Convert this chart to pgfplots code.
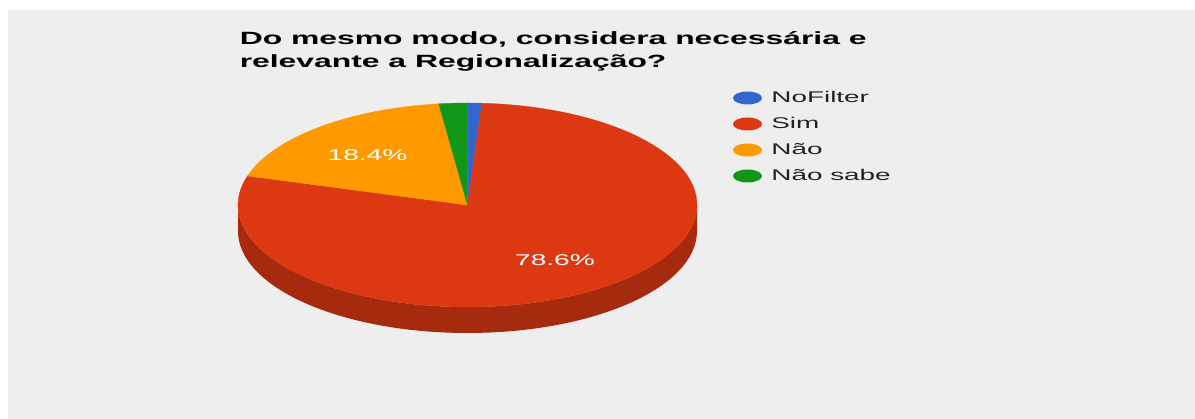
\documentclass[border=0pt]{standalone}
\usepackage{pgfplots}
\pgfplotsset{compat=1.18}
\usepackage{fontspec}
\setmainfont{Liberation Sans}
\definecolor{bg}{HTML}{EEEEEE}
\definecolor{cblue}{HTML}{3366CC}
\definecolor{cred}{HTML}{DC3912}
\definecolor{corange}{HTML}{FF9900}
\definecolor{cgreen}{HTML}{109618}
\definecolor{credside}{HTML}{A52A0E}
\definecolor{ltext}{HTML}{222222}
% shares (percent)
\def\pNoFilter{1.0}
\def\pSim{78.6}
\def\pNao{18.4}
\def\pNaoSabe{2.0}
% geometry
\def\cx{467.5}\def\cy{214}\def\rx{229.5}\def\ry{102}\def\dep{26}
\begin{document}
\begin{tikzpicture}
\begin{axis}[x=1pt,y=1pt,xmin=0,xmax=1195,ymin=0,ymax=419,hide axis,scale only axis,clip=false,disabledatascaling]
\fill[white] (axis cs:0,0) rectangle (axis cs:1195,419);
\fill[bg] (axis cs:8,0) rectangle (axis cs:1195,409);
% side wall (front, entirely within Sim)
\fill[credside] (axis cs:238,214) -- ++(0,-\dep pt) arc[start angle=180,end angle=360,x radius=\rx pt,y radius=\ry pt] -- ++(0,\dep pt) arc[start angle=360,end angle=180,x radius=\rx pt,y radius=\ry pt] -- cycle;
% top faces
\fill[cblue,draw=cblue,line width=0.3pt] (axis cs:\cx,\cy) -- ++(90:\rx pt and \ry pt) arc[start angle=90,delta angle={-3.6*\pNoFilter},x radius=\rx pt,y radius=\ry pt] -- cycle;
\fill[cred,draw=cred,line width=0.3pt] (axis cs:\cx,\cy) -- ++({90-3.6*\pNoFilter}:\rx pt and \ry pt) arc[start angle={90-3.6*\pNoFilter},delta angle={-3.6*\pSim},x radius=\rx pt,y radius=\ry pt] -- cycle;
\fill[corange,draw=corange,line width=0.3pt] (axis cs:\cx,\cy) -- ++({90-3.6*(\pNoFilter+\pSim)}:\rx pt and \ry pt) arc[start angle={90-3.6*(\pNoFilter+\pSim)},delta angle={-3.6*\pNao},x radius=\rx pt,y radius=\ry pt] -- cycle;
\fill[cgreen,draw=cgreen,line width=0.3pt] (axis cs:\cx,\cy) -- ++({90-3.6*(\pNoFilter+\pSim+\pNao)}:\rx pt and \ry pt) arc[start angle={90-3.6*(\pNoFilter+\pSim+\pNao)},delta angle={-3.6*\pNaoSabe},x radius=\rx pt,y radius=\ry pt] -- cycle;
% slice labels
\node[anchor=base,inner sep=0,text=white,xscale=1.8,font=\fontsize{15.6}{18}\selectfont] at (axis cs:367.5,258) {18.4\%};
\node[anchor=base,inner sep=0,text=white,xscale=1.8,font=\fontsize{15.6}{18}\selectfont] at (axis cs:555,153) {78.6\%};
% title
\node[anchor=base west,inner sep=0,xscale=1.8,font=\fontsize{17.7}{23}\bfseries\selectfont] at (axis cs:239.4,374.7) {Do mesmo modo, considera necessária e};
\node[anchor=base west,inner sep=0,xscale=1.8,font=\fontsize{17.7}{23}\bfseries\selectfont] at (axis cs:239.4,351.5) {relevante a Regionalização?};
% legend
\fill[cblue] (axis cs:747.5,321) ellipse[x radius=14.5pt,y radius=6.5pt];
\fill[cred] (axis cs:747.5,295) ellipse[x radius=14.5pt,y radius=6.5pt];
\fill[corange] (axis cs:747.5,269) ellipse[x radius=14.5pt,y radius=6.5pt];
\fill[cgreen] (axis cs:747.5,243) ellipse[x radius=14.5pt,y radius=6.5pt];
\node[anchor=base west,inner sep=0,text=ltext,xscale=1.8,font=\fontsize{15.5}{18}\selectfont] at (axis cs:771,316.7) {NoFilter};
\node[anchor=base west,inner sep=0,text=ltext,xscale=1.8,font=\fontsize{15.5}{18}\selectfont] at (axis cs:771,290.7) {Sim};
\node[anchor=base west,inner sep=0,text=ltext,xscale=1.8,font=\fontsize{15.5}{18}\selectfont] at (axis cs:771,264.7) {Não};
\node[anchor=base west,inner sep=0,text=ltext,xscale=1.8,font=\fontsize{15.5}{18}\selectfont] at (axis cs:771,238.7) {Não sabe};
\end{axis}
\end{tikzpicture}
\end{document}
